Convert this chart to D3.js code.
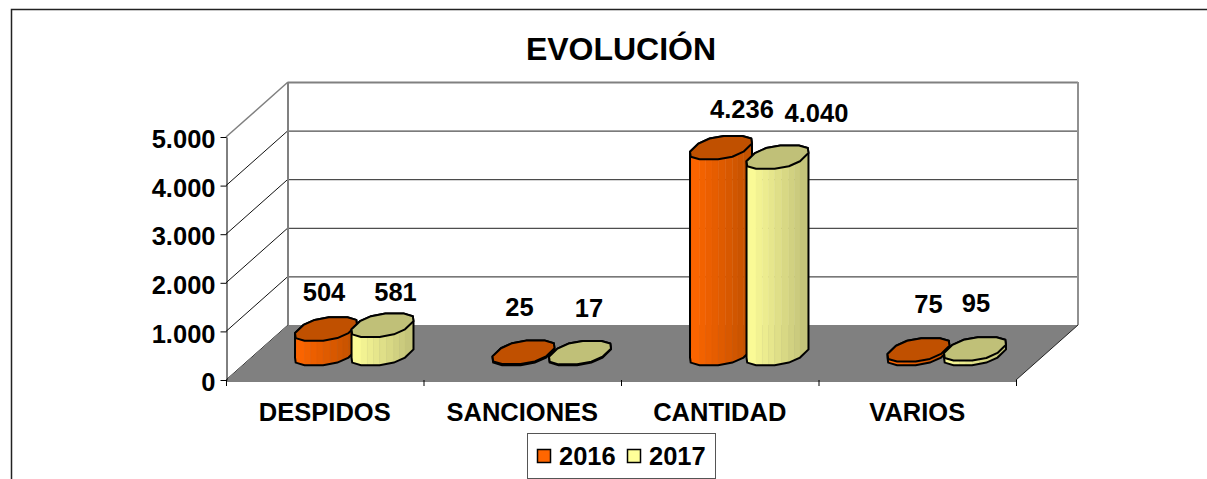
<!DOCTYPE html>
<html>
<head>
<meta charset="utf-8">
<script src="https://cdn.jsdelivr.net/npm/d3@7"></script>
<style>
  html, body { margin: 0; padding: 0; background: #fff; overflow: hidden; }
  svg { display: block; }
  text { font-family: "Liberation Sans", Arial, sans-serif; font-weight: bold; fill: #000; }
</style>
</head>
<body>
<script>
// data
const categories = ['DESPIDOS', 'SANCIONES', 'CANTIDAD', 'VARIOS'];
const seriesNames = ['2016', '2017'];
const values2016 = [504, 25, 4236, 75];
const values2017 = [581, 17, 4040, 95];
const yTicks = [0, 1000, 2000, 3000, 4000, 5000];

const width = 1207, height = 479;
const left = 226, right = 1016, floorY = 380, topY = 137;
const depthX = 62, depthY = 55;   // shift of the back wall

// the labels were moved by hand in the original, [dx, dy] from top centre of the bar
const labelNudge = {
  2016: [[-2, -37], [-4, -45], [21, -39], [10, -46]],
  2017: [[13, -33], [9, -45], [39, -44], [1, -46]]
};

const colors = {
  2016: { light: '#ff6600', dark: '#c05000', top: '#c05000' },
  2017: { light: '#ffff99', dark: '#c0c078', top: '#c0c078' }
};

const fmt = d3.formatLocale({ decimal: ',', thousands: '.', grouping: [3], currency: ['', ''] }).format(',d');

const x = d3.scaleBand().domain(categories).range([left, right]);
const inner = d3.scaleBand().domain(seriesNames).range([-56.5, 56.5]);
const y = d3.scaleLinear().domain([0, 5000]).range([floorY, topY]);

const svg = d3.select('body').append('svg')
  .attr('width', width)
  .attr('height', height);

svg.append('rect').attr('width', width).attr('height', height).attr('fill', '#fff');

// outer frame, only top and left show
svg.append('path')
  .attr('d', `M11.5,${height}V9.5H${width}`)
  .attr('fill', 'none').attr('stroke', '#222').attr('stroke-width', 1.5);

svg.append('text')
  .attr('x', 621).attr('y', 60)
  .attr('text-anchor', 'middle')
  .attr('font-size', 32)
  .text('EVOLUCIÓN');

// back wall grid
const wall = svg.append('g');
yTicks.forEach(function (t) {
  const isTop = t === 5000;
  wall.append('line')
    .attr('x1', left).attr('y1', y(t))
    .attr('x2', left + depthX).attr('y2', y(t) - depthY)
    .attr('stroke', isTop ? '#808080' : '#111')
    .attr('stroke-width', isTop ? 1.5 : 1);
  if (t > 0) {
    wall.append('line')
      .attr('x1', left + depthX).attr('y1', y(t) - depthY + 0.5)
      .attr('x2', right + depthX).attr('y2', y(t) - depthY + 0.5)
      .attr('stroke', isTop ? '#808080' : '#222')
      .attr('stroke-width', isTop ? 2 : 1);
  }
});

// wall edges
wall.append('path')
  .attr('d', `M${left + depthX},${y(5000) - depthY}V${floorY - depthY}`)
  .attr('stroke', '#808080').attr('stroke-width', 2).attr('fill', 'none');
wall.append('path')
  .attr('d', `M${right + depthX},${y(5000) - depthY}V${floorY - depthY}`)
  .attr('stroke', '#909090').attr('stroke-width', 2).attr('fill', 'none');

// floor
svg.append('path')
  .attr('d', `M${left},${floorY}H${right}L${right + depthX},${floorY - depthY}H${left + depthX}Z`)
  .attr('fill', '#808080');
svg.append('line')
  .attr('x1', right).attr('y1', floorY)
  .attr('x2', right + depthX).attr('y2', floorY - depthY)
  .attr('stroke', '#222');

// axes
const yAxis = svg.append('g')
  .attr('transform', `translate(${left + 0.5},0)`)
  .call(d3.axisLeft(y).tickValues(yTicks).tickFormat(fmt).tickSize(6).tickSizeOuter(0).tickPadding(5));
yAxis.selectAll('text').attr('font-size', 25.5).attr('dy', '0.42em')
  .style('font-family', '"Liberation Sans", Arial, sans-serif');

const xAxis = svg.append('g')
  .attr('transform', `translate(0,${floorY + 0.5})`)
  .call(d3.axisBottom(x).tickSize(0).tickPadding(22));
xAxis.selectAll('text').attr('font-size', 25.5)
  .style('font-family', '"Liberation Sans", Arial, sans-serif');
xAxis.select('.domain').attr('stroke', '#000');
svg.append('g').selectAll('line')
  .data(d3.range(categories.length + 1))
  .join('line')
  .attr('x1', function (d) { return left + x.step() * d + 0.5; })
  .attr('x2', function (d) { return left + x.step() * d + 0.5; })
  .attr('y1', floorY).attr('y2', floorY + 6)
  .attr('stroke', '#000');

// one sheared twelve sided cylinder, a bit squarer than an ellipse
const halfX = 27.5, halfDepthX = 12.5, halfDepthY = 12, sides = 12;
const squarish = function (a) { return Math.sign(a) * Math.pow(Math.abs(a), 0.8); };

function ring(cx, cy) {
  return d3.range(sides).map(function (i) {
    const t = (i + 0.5) / sides * 2 * Math.PI;
    const c = squarish(Math.cos(t)), s = squarish(Math.sin(t));
    return [
      cx + halfX * c + halfDepthX * s,
      cy - halfDepthY * s
    ];
  });
}

const rows = [
  { name: '2016', values: values2016 },
  { name: '2017', values: values2017 }
];
const baseY = floorY - depthY / 2 + 1;
const line = d3.line().curve(d3.curveLinearClosed);
const lerp = function (a, b, k) { return [a[0] + (b[0] - a[0]) * k, a[1] + (b[1] - a[1]) * k]; };

categories.forEach(function (cat, c) {
  rows.forEach(function (row) {
    const v = row.values[c];
    const col = colors[row.name];
    const cx = x(cat) + x.bandwidth() / 2 + inner(row.name) + inner.bandwidth() / 2 + depthX / 2 - 1.5;
    const h = floorY - y(v);
    const bottom = ring(cx, baseY);
    const top = ring(cx, baseY - h);
    const shade = d3.scaleLinear()
      .domain(d3.extent(bottom, function (p) { return p[0]; }))
      .range([0, 1]);
    const g = svg.append('g');

    // near side facets, cut in strips that get darker to the right
    bottom.forEach(function (p, i) {
      const j = (i + 1) % sides;
      const q = bottom[j];
      if (q[0] <= p[0]) return;
      const strips = Math.max(1, Math.round((q[0] - p[0]) / 6));
      d3.range(strips).forEach(function (s) {
        const k0 = s / strips, k1 = (s + 1) / strips;
        const b0 = lerp(p, q, k0), b1 = lerp(p, q, k1);
        const t0 = lerp(top[i], top[j], k0), t1 = lerp(top[i], top[j], k1);
        const stripColor = d3.interpolateRgb(col.light, col.dark)(shade((b0[0] + b1[0]) / 2));
        g.append('path')
          .attr('d', line([b0, b1, t1, t0]))
          .attr('fill', stripColor)
          .attr('stroke', stripColor)
          .attr('stroke-width', 0.5);
      });
    });

    g.append('path')
      .attr('d', line(d3.polygonHull(bottom.concat(top))))
      .attr('fill', 'none').attr('stroke', '#000').attr('stroke-width', 2);
    g.append('path')
      .attr('d', line(top))
      .attr('fill', col.top).attr('stroke', '#000').attr('stroke-width', 2)
      .attr('stroke-linejoin', 'round');

    const n = labelNudge[row.name][c];
    svg.append('text')
      .attr('x', cx + n[0])
      .attr('y', baseY - h + n[1])
      .attr('dy', '0.36em')
      .attr('text-anchor', 'middle')
      .attr('font-size', 25.5)
      .text(fmt(v));
  });
});

// legend
const legend = svg.append('g');
legend.append('rect')
  .attr('x', 527.5).attr('y', 433.5).attr('width', 188).attr('height', 45)
  .attr('fill', '#fff').attr('stroke', '#555');
const legendX = d3.scalePoint().domain(seriesNames).range([537, 627]);
seriesNames.forEach(function (s) {
  legend.append('rect')
    .attr('x', legendX(s) + 0.5).attr('y', 449.5).attr('width', 13).attr('height', 13)
    .attr('fill', colors[s].light).attr('stroke', '#000').attr('stroke-width', 1.5);
  legend.append('text')
    .attr('x', legendX(s) + 22).attr('y', 465)
    .attr('font-size', 25.5)
    .text(s);
});
</script>
</body>
</html>
